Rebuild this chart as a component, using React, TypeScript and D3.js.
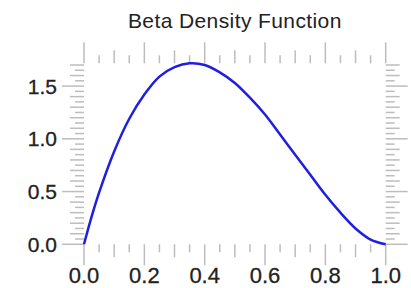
import React from "react";
import * as d3 from "d3";

const xValues = [0, 0.025, 0.05, 0.1, 0.15, 0.2, 0.25, 0.3, 0.35, 0.4, 0.45, 0.5, 0.55, 0.6, 0.65, 0.7, 0.75, 0.8, 0.85, 0.9, 0.95, 1.0];
const densityValues = [0, 0.26, 0.49, 0.88, 1.19, 1.42, 1.59, 1.68, 1.716, 1.7, 1.63, 1.53, 1.39, 1.23, 1.04, 0.85, 0.66, 0.47, 0.3, 0.15, 0.045, 0];
const xTickLabels = ["0.0", "0.2", "0.4", "0.6", "0.8", "1.0"];
const yTickLabels = ["0.0", "0.5", "1.0", "1.5"];
const title = "Beta Density Function";

const W = 411;
const H = 288;
const FONT = "'Liberation Sans', Arial, Helvetica, sans-serif";
const TICK = "#bdbdbd";

export default function App() {
  const x = d3.scaleLinear().domain([0, 1]).range([84, 385.7]);
  const yMax = d3.max(densityValues) as number;
  const y = d3.scaleLinear().domain([0, yMax]).range([244.3, 63.3]);
  const pts = xValues.map((v, i) => [v, densityValues[i]] as [number, number]);
  const line = d3
    .line<[number, number]>()
    .x((d) => x(d[0]))
    .y((d) => y(d[1]))
    .curve(d3.curveCatmullRom.alpha(0.5));

  const xt = d3.range(0, 21).map((i) => i * 0.05);
  const yt = d3.range(0, 35).map((i) => i * 0.05);
  const lenFor = (i: number, longEvery: number) =>
    i % longEvery === 0 ? 21 : i % 2 === 0 ? 13 : 8;

  const y0 = y(0);
  const yT = y(yMax);
  const xL = x(0);
  const xR = x(1);

  return (
    <svg
      width={W}
      height={H}
      style={{ position: "absolute", left: 0, top: 0, background: "#fff" }}
    >
      <rect x={0} y={0} width={W} height={H} fill="#fff" />
      <g stroke={TICK} strokeWidth={1.5}>
        {xt.map((v, i) => {
          const L = lenFor(i, 4);
          return (
            <g key={"x" + i}>
              <line x1={x(v)} x2={x(v)} y1={y0} y2={y0 + L} />
              <line x1={x(v)} x2={x(v)} y1={yT} y2={yT - L} />
            </g>
          );
        })}
        {yt.map((v, i) => {
          const L = i % 10 === 0 ? 22 : i % 2 === 0 ? 14 : 9;
          return (
            <g key={"y" + i}>
              <line x1={xL} x2={xL - L} y1={y(v)} y2={y(v)} />
              <line x1={xR} x2={xR + L} y1={y(v)} y2={y(v)} />
            </g>
          );
        })}
      </g>
      <path d={line(pts) || ""} fill="none" stroke="#1f1fe0" strokeWidth={2.5} />
      <g fontFamily={FONT} fill="#222">
        <g stroke="#222" strokeWidth={0.3}>
          {xTickLabels.map((t) => (
            <text key={t} x={x(+t)} y={283} fontSize={22} textAnchor="middle">
              {t}
            </text>
          ))}
          {yTickLabels.map((t) => (
            <text
              key={t}
              x={57}
              y={y(+t)}
              fontSize={21}
              textAnchor="end"
              dominantBaseline="central"
            >
              {t}
            </text>
          ))}
        </g>
        <text
          x={(xL + xR) / 2}
          y={28}
          fontSize={21}
          letterSpacing={0.4}
          textAnchor="middle"
        >
          {title}
        </text>
      </g>
    </svg>
  );
}
